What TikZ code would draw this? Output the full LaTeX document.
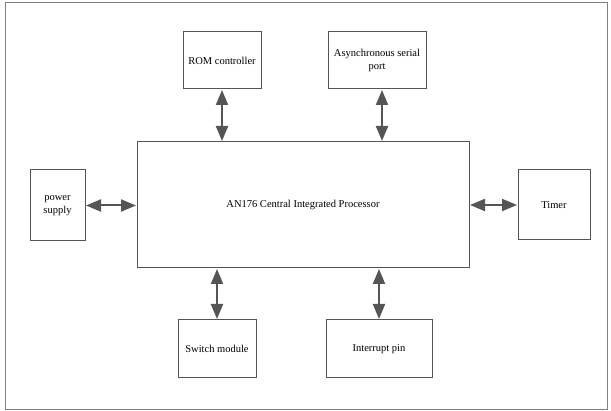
\documentclass[tikz,border=0pt]{standalone}
\usepackage{fontspec}
\setmainfont{Liberation Serif}
\usetikzlibrary{arrows.meta}
\definecolor{edge}{HTML}{555555}
\definecolor{framec}{HTML}{808080}
\begin{document}
\begin{tikzpicture}[x=1pt,y=-1pt,
  block/.style={draw=edge,line width=1pt,fill=white,align=center,
    font=\fontsize{10.5}{12.5}\selectfont,inner sep=0pt},
  link/.style={draw=edge,line width=2pt,
    {Triangle[length=15pt,width=12pt]}-{Triangle[length=15pt,width=12pt]},
    shorten <=0.5pt,shorten >=0.5pt}]
\useasboundingbox (0,0) rectangle (611,411);
% outer frame
\draw[framec,line width=1pt] (5.5,3) rectangle (607,410);

% blocks, given by their corners
\node[block,minimum width=332pt,minimum height=126pt] (cpu) at (303,205)
  {AN176 Central Integrated Processor};
\node[block,minimum width=78pt,minimum height=57pt] (rom) at (222,60.5)
  {ROM controller};
\node[block,minimum width=98pt,minimum height=57pt] (uart) at (377,60.5)
  {Asynchronous serial\\port};
\node[block,minimum width=55pt,minimum height=71pt] (psu) at (57.5,205.5)
  {power\\supply};
\node[block,minimum width=72pt,minimum height=70pt] (tmr) at (554,205)
  {Timer};
\node[block,minimum width=78pt,minimum height=58pt] (sw) at (217,349)
  {Switch module};
\node[block,minimum width=106pt,minimum height=58pt] (irq) at (379,349)
  {Interrupt pin};

% bidirectional links
\draw[link] (rom.south) -- (rom.south |- cpu.north);
\draw[link] ([xshift=5pt]uart.south) -- ([xshift=5pt]uart.south |- cpu.north);
\draw[link] (psu.east) -- (psu.east -| cpu.west);
\draw[link] (tmr.west) -- (tmr.west -| cpu.east);
\draw[link] (sw.north) -- (sw.north |- cpu.south);
\draw[link] (irq.north) -- (irq.north |- cpu.south);
\end{tikzpicture}
\end{document}
